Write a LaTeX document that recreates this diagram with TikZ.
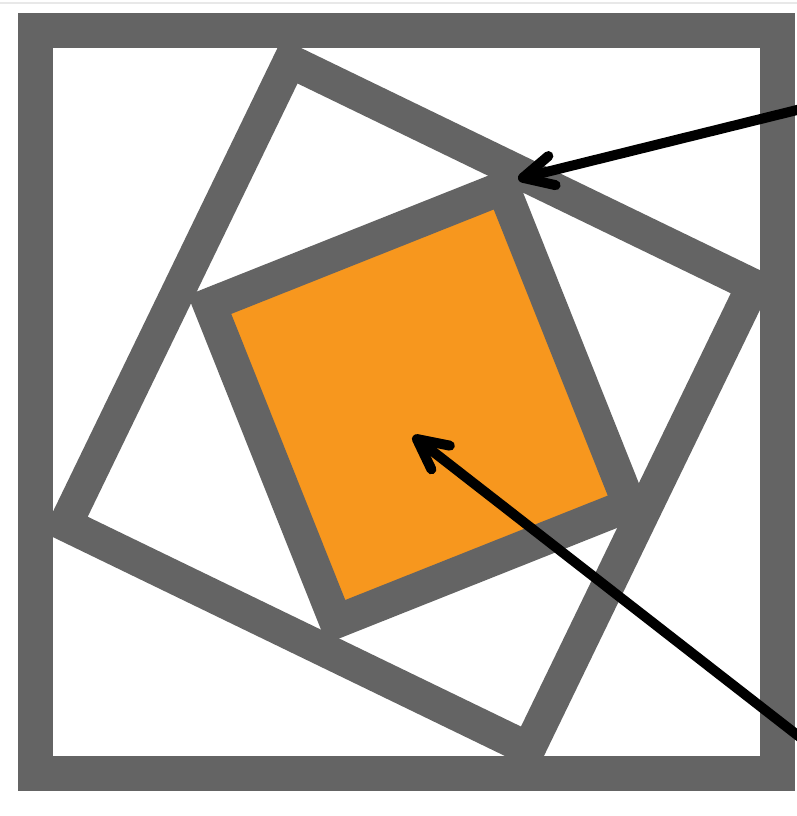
\documentclass[tikz,border=0pt]{standalone}
\usetikzlibrary{arrows.meta}
\definecolor{framegray}{RGB}{100,100,100}
\definecolor{fillorange}{RGB}{247,151,30}
\definecolor{faintline}{RGB}{232,232,232}
\begin{document}
\begin{tikzpicture}[x=1pt,y=-1pt,
  frame/.style={draw=framegray, line width=35pt, line join=miter},
  tilt/.style={draw=framegray, line width=33.5pt, line join=miter},
  pointer/.style={draw=black, line width=10pt, line cap=round,
    -{Straight Barb[length=30pt,width=30pt,round]}}]
\useasboundingbox (0,0) rectangle (797,816);
\clip (0,0) rectangle (797,816);
\fill[white] (0,0) rectangle (797,816);
\draw[faintline, line width=1.5pt] (0,3) -- (797,3);

% middle (tilted) square, centreline corners
\coordinate (mT) at (289.75,61.1);
\coordinate (mR) at (753.15,285.5);
\coordinate (mB) at (528.75,748.9);
\coordinate (mL) at (65.35,524.5);
\draw[tilt] (mT) -- (mR) -- (mB) -- (mL) -- cycle;

% inner rectangle, centreline corners
\coordinate (iL) at (209.5,304.55);
\coordinate (iT) at (503.1,187.75);
\coordinate (iR) at (629.5,504.95);
\coordinate (iB) at (335.9,621.75);
\draw[tilt, fill=fillorange] (iL) -- (iT) -- (iR) -- (iB) -- cycle;

% outer frame
\draw[frame] (35.5,30.5) rectangle (777.5,773.5);

% arrows
\coordinate (a1s) at (810,106.8);
\coordinate (a1t) at (518,179);
\coordinate (a2s) at (810,745);
\coordinate (a2t) at (413,436);
\draw[pointer] (a1s) -- (a1t);
\draw[pointer] (a2s) -- (a2t);
\end{tikzpicture}
\end{document}
